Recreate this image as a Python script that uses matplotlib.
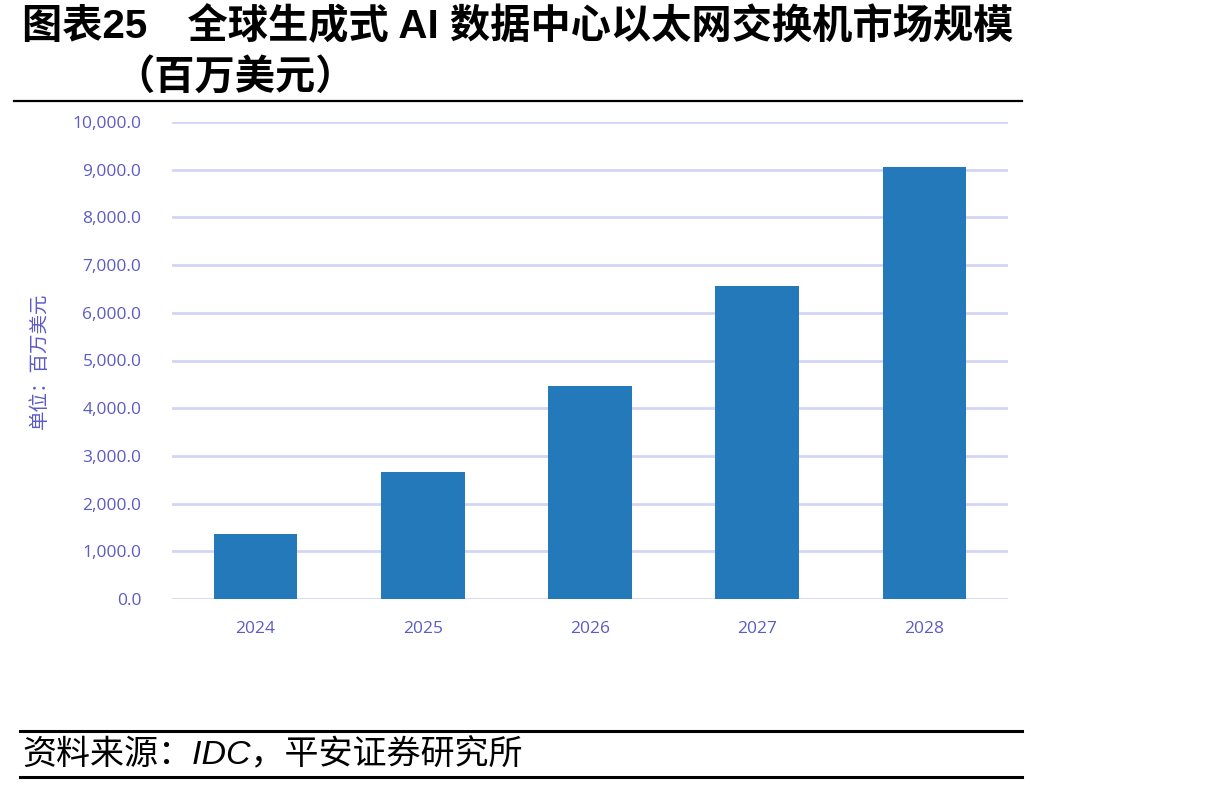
import matplotlib
matplotlib.use("Agg")
import matplotlib.pyplot as plt
from matplotlib.lines import Line2D
from matplotlib.ticker import FuncFormatter

plt.rcParams['font.family'] = ['Noto Sans CJK SC', 'DejaVu Sans']

# ===== DATA =====
years = ["2024", "2025", "2026", "2027", "2028"]
market_size = [1360, 2670, 4470, 6570, 9060]   # 百万美元
y_ticks = [0, 1000, 2000, 3000, 4000, 5000, 6000, 7000, 8000, 9000, 10000]

title_line1 = "图表25　全球生成式 AI 数据中心以太网交换机市场规模"
title_line2 = "（百万美元）"
y_label = "单位：百万美元"
source = "资料来源：IDC，平安证券研究所"

bar_color = "#2379ba"
tick_color = "#5b5bc6"
grid_color = "#d4d4f8"

fig = plt.figure(figsize=(12.13, 7.87), dpi=100)
ax = fig.add_axes([172 / 1213, 1 - 599 / 787, (1008 - 172) / 1213, (599 - 122) / 787])

x = range(len(years))
ax.bar(x, market_size, width=0.5, color=bar_color, zorder=3)

ax.set_xlim(-0.5, len(years) - 0.5)
ax.set_ylim(0, 10000)
ax.set_yticks(y_ticks)
ax.yaxis.set_major_formatter(FuncFormatter(lambda v, p: f"{v:,.1f}"))
ax.set_xticks(list(x))
ax.set_xticklabels(years)

ax.grid(axis="y", color=grid_color, linewidth=2, zorder=0)
ax.grid(axis="x", visible=False)
for s in ax.spines.values():
    s.set_visible(False)
ax.tick_params(axis="both", length=0, colors=tick_color, labelsize=12.5)
ax.tick_params(axis="y", pad=22)
ax.tick_params(axis="x", pad=16)
for lbl in ax.get_xticklabels() + ax.get_yticklabels():
    lbl.set_family(["Open Sans", "DejaVu Sans"])

ax.set_ylabel(y_label, color=tick_color, fontsize=14, labelpad=16)

# title
fig.text(22 / 1213, 1 - 26 / 787, title_line1, fontsize=29, fontweight="bold",
         ha="left", va="center", color="black",
         family=["Liberation Sans", "Noto Sans CJK SC"])
fig.text(114 / 1213, 1 - 77 / 787, title_line2, fontsize=29, fontweight="bold",
         ha="left", va="center", color="black",
         family=["Noto Sans CJK SC", "DejaVu Sans"])

# rules
fig.add_artist(Line2D([14 / 1213, 1022 / 1213], [1 - 101 / 787] * 2, color="black", linewidth=1.6))
fig.add_artist(Line2D([20 / 1213, 1022 / 1213], [1 - 731 / 787] * 2, color="black", linewidth=2.2))
fig.add_artist(Line2D([20 / 1213, 1022 / 1213], [1 - 777 / 787] * 2, color="black", linewidth=2.2))

fig.text(22 / 1213, 1 - 755 / 787, source, fontsize=24.5, style="italic",
         ha="left", va="center", color="black",
         family=["Liberation Sans", "Noto Sans CJK SC"])

fig.savefig("out.png", dpi=100)
